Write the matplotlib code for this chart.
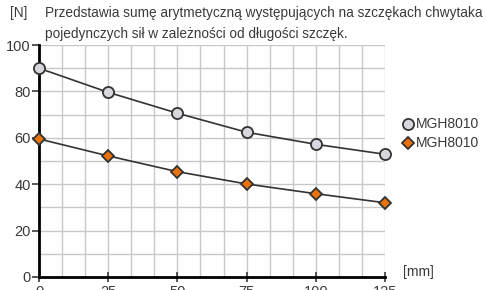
import matplotlib
matplotlib.use("Agg")
import matplotlib.pyplot as plt
from matplotlib.ticker import MultipleLocator

plt.rcParams['font.family'] = ['Liberation Sans', 'DejaVu Sans']

x_mm = [0, 25, 50, 75, 100, 125]
series_circle = [90, 79.6, 70.6, 62.4, 57.2, 52.9]
series_diamond = [59.5, 52.2, 45.4, 40.1, 35.9, 32.0]
label_circle = "MGH8010"
label_diamond = "MGH8010"
x_ticks = [0, 25, 50, 75, 100, 125]
y_ticks = [0, 20, 40, 60, 80, 100]
title_line1 = "Przedstawia sumę arytmetyczną występujących na szczękach chwytaka"
title_line2 = "pojedynczych sił w zależności od długości szczęk."

TXT = '#3a3a3a'

fig = plt.figure(figsize=(4.86, 2.90), dpi=100)
ax = fig.add_axes([39/486, 13/290, (385-39)/486, (277-45)/290])

ax.set_xlim(0, 125)
ax.set_ylim(0, 100)
ax.xaxis.set_minor_locator(MultipleLocator(25/3))
ax.yaxis.set_minor_locator(MultipleLocator(10))
ax.set_xticks(x_ticks)
ax.set_yticks(y_ticks)
ax.grid(which='both', color='#c8c8c8', linewidth=1.0)
ax.set_axisbelow(True)
for s in ['top', 'right']:
    ax.spines[s].set_visible(False)
for s in ['left', 'bottom']:
    ax.spines[s].set_linewidth(2)
    ax.spines[s].set_color('black')
ax.tick_params(axis='both', which='minor', length=0)
ax.tick_params(axis='y', which='major', direction='out', length=5, width=1.2,
               labelsize=10.5, colors=TXT, pad=1)
ax.tick_params(axis='x', which='major', direction='inout', length=7, width=1.2,
               labelsize=10.5, colors=TXT, pad=2)

ax.plot(x_mm, series_circle, color='#333333', linewidth=1.2, marker='o',
        markersize=8, markerfacecolor='#d8d8dc', markeredgecolor='#333333',
        markeredgewidth=1.3, clip_on=False, zorder=3)
ax.plot(x_mm, series_diamond, color='#333333', linewidth=1.2, marker='D',
        markersize=6, markerfacecolor='#e8720c', markeredgecolor='#333333',
        markeredgewidth=1.3, clip_on=False, zorder=3)

# legend
lx = 408
fig.lines.append(plt.Line2D([lx/486], [1 - 124/290], transform=fig.transFigure,
                            marker='o', markersize=8, markerfacecolor='#d8d8e0',
                            markeredgecolor='#333333', markeredgewidth=1.3, linestyle='none'))
fig.lines.append(plt.Line2D([lx/486], [1 - 143/290], transform=fig.transFigure,
                            marker='D', markersize=6, markerfacecolor='#e8720c',
                            markeredgecolor='#333333', markeredgewidth=1.3, linestyle='none'))
fig.text(416/486, 1 - 124/290, label_circle, fontsize=10, color=TXT, va='center', ha='left')
fig.text(416/486, 1 - 143/290, label_diamond, fontsize=10, color=TXT, va='center', ha='left')

# titles / unit labels
fig.text(10/486, 1 - 13/290, "[N]", fontsize=9.8, color=TXT, va='center', ha='left')
fig.text(45/486, 1 - 13/290, title_line1, fontsize=9.8, color=TXT, va='center', ha='left')
fig.text(45/486, 1 - 34/290, title_line2, fontsize=9.8, color=TXT, va='center', ha='left')
fig.text(403/486, 1 - 272/290, "[mm]", fontsize=10, color=TXT, va='center', ha='left')

fig.savefig("out.png", dpi=100)
